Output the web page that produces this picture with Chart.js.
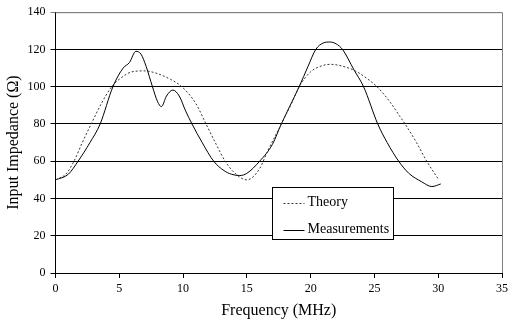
<!DOCTYPE html>
<html>
<head>
<meta charset="utf-8">
<script src="https://cdn.jsdelivr.net/npm/chart.js@4"></script>
<style>
  html, body { margin: 0; padding: 0; background: #fff; }
  #wrap { width: 512px; height: 324px; }
</style>
</head>
<body>
<div id="wrap"><canvas id="myChart" width="512" height="324"></canvas></div>
<script>
// theory curve (MHz, ohm)
const theoryFreq = [0, 0.8, 1.45, 2.1, 2.8, 3.6, 4.4, 5, 6, 7, 8, 9, 9.9, 11, 11.8, 12.6, 13.3, 14, 15, 16, 16.6, 17.7, 18.5, 19.1, 20, 21, 21.6, 22.5, 23.5, 24.4, 25.2, 26.2, 27, 27.4, 28.3, 29.1, 30];
const theoryZ = [50, 53, 60, 70, 80, 91, 100, 104, 108, 108.5, 107, 104, 100, 91, 80, 69, 60, 54, 50, 56, 65, 80, 91, 100, 108, 111.5, 112, 111, 108.5, 104.5, 100, 92, 84, 80, 70, 60, 50.5];

// measured curve
const measFreq = [0, 1, 1.77, 2.7, 3.5, 4.5, 5.3, 5.8, 6.3, 6.7, 7.1, 7.6, 8, 8.3, 8.7, 9.2, 9.7, 10.2, 10.7, 11.5, 12.4, 13.2, 13.8, 14.45, 15, 16, 17, 17.7, 18.4, 19.1, 19.8, 20.4, 21, 21.5, 22, 22.5, 23.4, 24.15, 25.26, 26, 26.9, 27.7, 28.7, 29.5, 30.2];
const measZ = [50, 53, 60, 70, 80, 100, 110, 113, 119, 117.5, 111, 100, 92, 89.3, 95, 98.2, 95, 87, 80, 70, 60, 55, 53, 52.3, 53.5, 60, 69, 80, 90, 100, 111, 120, 123.5, 124, 123, 120, 109, 100, 80, 70, 60, 53.5, 49, 46.4, 47.8];

const xTicks = [0, 5, 10, 15, 20, 25, 30, 35];
const yTicks = [0, 20, 40, 60, 80, 100, 120, 140];
const seriesNames = ['Theory', 'Measurements'];

const toPts = (xs, ys) => xs.map((x, i) => ({ x: x, y: ys[i] }));
const serif = 'Liberation Serif, Times New Roman, serif';

// frame on top/right + legend box
const extras = {
  id: 'extras',
  afterDraw(chart) {
    const c = chart.ctx;
    const a = chart.chartArea;
    c.save();
    c.strokeStyle = '#808080';
    c.lineWidth = 1;
    c.beginPath();
    c.moveTo(a.left, a.top + 0.5);
    c.lineTo(a.right + 0.5, a.top + 0.5);
    c.lineTo(a.right + 0.5, a.bottom);
    c.stroke();

    // legend
    const bx = 272.5, by = 187.5, bw = 121, bh = 52;
    c.fillStyle = '#fff';
    c.fillRect(bx, by, bw, bh);
    c.strokeStyle = '#000';
    c.strokeRect(bx, by, bw, bh);
    c.font = '14px ' + serif;
    c.fillStyle = '#000';
    c.textBaseline = 'middle';
    const rows = [by + 15, by + 42];
    rows.forEach((ry, i) => {
      c.beginPath();
      c.setLineDash(i === 0 ? [2, 2] : []);
      c.strokeStyle = i === 0 ? '#333' : '#000';
      c.moveTo(bx + 11, Math.round(ry) + 0.5);
      c.lineTo(bx + 32, Math.round(ry) + 0.5);
      c.stroke();
      c.setLineDash([]);
      c.fillText(seriesNames[i], bx + 35, ry);
    });
    c.restore();
  }
};

const ctx = document.querySelector('#myChart');

const myChart = new Chart(ctx, {
  type: 'scatter',
  data: {
    datasets: [{
      label: seriesNames[0],
      data: toPts(theoryFreq, theoryZ),
      showLine: true,
      borderColor: '#333',
      borderWidth: 1,
      borderDash: [2, 2],
      pointRadius: 0,
      cubicInterpolationMode: 'monotone'
    }, {
      label: seriesNames[1],
      data: toPts(measFreq, measZ),
      showLine: true,
      borderColor: '#000',
      borderWidth: 1,
      pointRadius: 0,
      cubicInterpolationMode: 'monotone'
    }]
  },
  options: {
    responsive: false,
    animation: false,
    layout: { padding: { top: 11, right: 4, left: 0, bottom: 0 } },
    plugins: {
      legend: { display: false },
      tooltip: { enabled: false }
    },
    scales: {
      x: {
        type: 'linear',
        min: 0,
        max: 35,
        afterBuildTicks: s => { s.ticks = xTicks.map(v => ({ value: v })); },
        afterFit: s => { s.height = 51; },
        grid: { drawOnChartArea: false, color: '#000', tickLength: 5 },
        border: { color: '#000' },
        ticks: { color: '#000', font: { family: serif, size: 12 }, padding: 4, maxRotation: 0 },
        title: {
          display: true,
          text: 'Frequency (MHz)',
          color: '#000',
          font: { family: serif, size: 16 },
          padding: { top: 2 }
        }
      },
      y: {
        min: 0,
        max: 140,
        afterBuildTicks: s => { s.ticks = yTicks.map(v => ({ value: v })); },
        afterFit: s => { s.width = 55.5; },
        grid: {
          color: c => (c.tick && c.tick.value === 140 ? '#808080' : '#000'),
          tickLength: 5
        },
        border: { color: '#000' },
        ticks: { color: '#000', font: { family: serif, size: 12 }, padding: 5 },
        title: {
          display: true,
          text: 'Input Impedance (Ω)',
          color: '#000',
          font: { family: serif, size: 16 },
          padding: { bottom: 4 }
        }
      }
    }
  },
  plugins: [extras]
});
</script>
</body>
</html>
